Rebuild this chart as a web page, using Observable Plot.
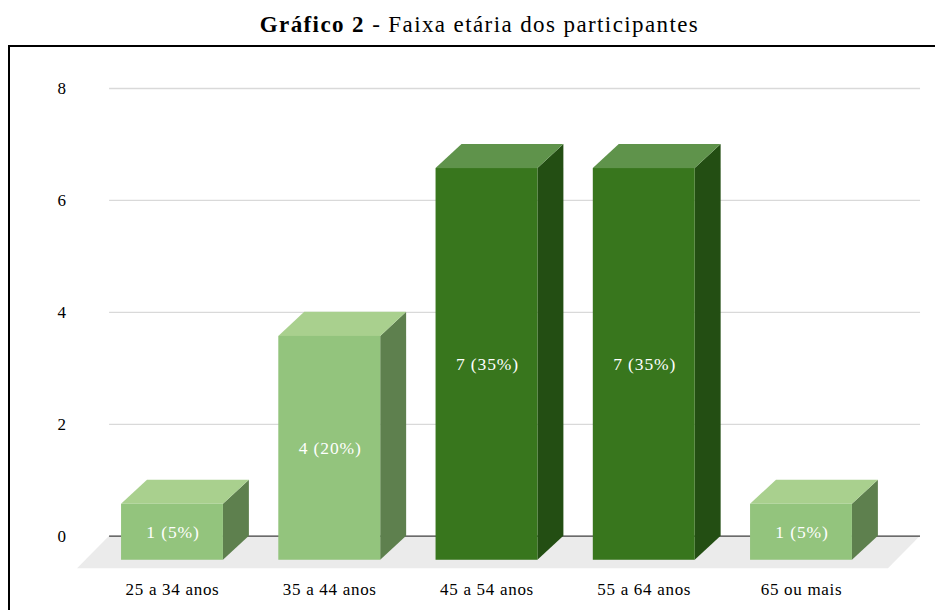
<!DOCTYPE html>
<html>
<head>
<meta charset="utf-8">
<script src="https://cdn.jsdelivr.net/npm/d3@7"></script>
<script src="https://cdn.jsdelivr.net/npm/@observablehq/plot@0.6"></script>
<style>
  html, body { margin: 0; padding: 0; background: #fff; }
  #wrap { position: relative; width: 935px; height: 610px; overflow: hidden; font-family: "Liberation Serif", "Times New Roman", Times, serif; }
  #title { position: absolute; left: 12px; top: 13px; width: 935px; text-align: center; font-size: 23px; line-height: 24px; letter-spacing: 1.4px; color: #000; }
  #frame { position: absolute; left: 8px; top: 45px; width: 960px; height: 600px; border: 2px solid #000; box-sizing: border-box; }
  #chart { position: absolute; left: 0; top: 45px; }
</style>
</head>
<body>
<div id="wrap">
  <div id="frame"></div>
  <div id="title"><b>Gráfico 2</b> - Faixa etária dos participantes</div>
  <div id="chart"></div>
</div>
<script>
// ---- data ----
const categories = ["25 a 34 anos", "35 a 44 anos", "45 a 54 anos", "55 a 64 anos", "65 ou mais"];
const counts = [1, 4, 7, 7, 1];
const percents = [5, 20, 35, 35, 5];
const tones = ["light", "light", "dark", "dark", "light"];
const yTicks = [0, 2, 4, 6, 8];

// ---- styling / geometry (in data units) ----
const palette = {
  light: {front: "#93c47d", top: "#a9d08e", side: "#5e804e"},
  dark:  {front: "#38761d", top: "#5f934b", side: "#234e13"}
};
const hw = 0.324;     // half bar width
const dxU = 0.165;    // depth offset, x
const dyU = 0.43;     // depth offset, y
const backL = -0.40, backR = 4.757;   // back plane extent
const floorDy = 0.58, floorDx = 0.204;
const serif = "'Liberation Serif', 'Times New Roman', Times, serif";

const bars = categories.map((c, i) => ({i, c, v: counts[i], p: percents[i], tone: tones[i]}));

const fronts = bars.map(b => ({...b, x1: b.i - hw, x2: b.i + hw, y1: -dyU, y2: b.v - dyU}));
const tops = bars.flatMap(b => [
  {...b, y: b.v - dyU, x1: b.i - hw, x2: b.i + hw},
  {...b, y: b.v, x1: b.i - hw + dxU, x2: b.i + hw + dxU}
]);
const sides = bars.flatMap(b => [
  {...b, x: b.i + hw, y1: -dyU, y2: b.v - dyU},
  {...b, x: b.i + hw + dxU, y1: 0, y2: b.v}
]);
const floor = [
  {y: -floorDy, x1: backL - floorDx, x2: backR - floorDx},
  {y: 0, x1: backL, x2: backR}
];

const chart = Plot.plot({
  width: 935,
  height: 565,
  marginLeft: 93.375,
  marginRight: 55.375,
  marginTop: 43,
  marginBottom: 74.3,
  style: {fontFamily: serif, fontSize: "17px", color: "#000", background: "transparent"},
  x: {type: "linear", domain: [-0.5, 4.5]},
  y: {domain: [0, 8]},
  marks: [
    Plot.areaX(floor, {y: "y", x1: "x1", x2: "x2", fill: "#ebebeb"}),
    Plot.ruleY(yTicks.filter(t => t !== 0), {x1: backL, x2: backR, stroke: "#d9d9d9", strokeWidth: 1.3}),
    Plot.ruleY([0], {x1: backL, x2: backR, stroke: "#404040", strokeWidth: 1.3}),
    Plot.areaY(sides, {x: "x", y1: "y1", y2: "y2", z: "i", fill: d => palette[d.tone].side}),
    Plot.areaX(tops, {y: "y", x1: "x1", x2: "x2", z: "i", fill: d => palette[d.tone].top}),
    Plot.rect(fronts, {x1: "x1", x2: "x2", y1: "y1", y2: "y2", fill: d => palette[d.tone].front}),
    Plot.text(bars, {x: "i", y: d => d.v / 2 - dyU, text: d => `${d.v} (${d.p}%)`, fill: "#fff", fontSize: 17.5, fontFamily: serif, dx: 0.5}),
    Plot.axisY({ticks: yTicks, tickSize: 0, tickPadding: 28, anchor: "left", tickFormat: d => d, fontFamily: serif}),
    Plot.axisX({ticks: categories.map((c, i) => i), tickSize: 0, tickPadding: 47, tickFormat: i => categories[i], fontFamily: serif})
  ]
});
chart.querySelectorAll("g[aria-label='x-axis tick label'] text").forEach(t => t.style.letterSpacing = "0.7px");
chart.querySelectorAll("g[aria-label='text'] text").forEach(t => t.style.letterSpacing = "0.9px");
document.getElementById("chart").appendChild(chart);
</script>
</body>
</html>
